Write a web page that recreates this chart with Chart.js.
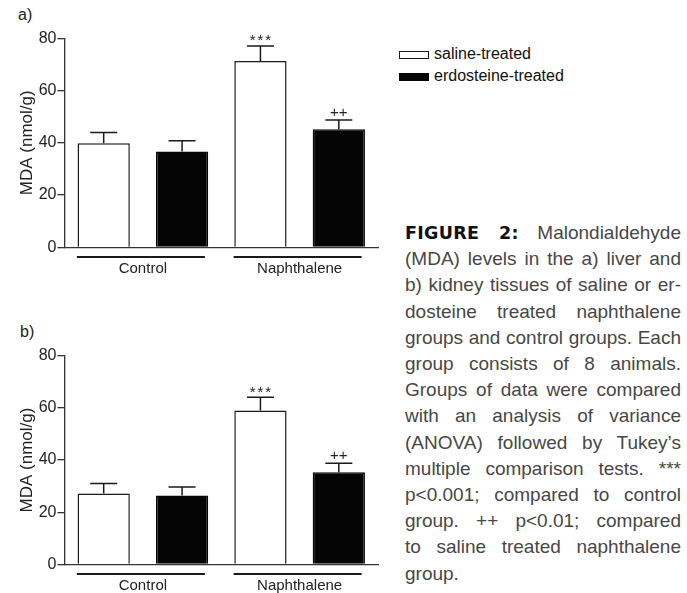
<!DOCTYPE html>
<html>
<head>
<meta charset="utf-8">
<script src="https://cdn.jsdelivr.net/npm/chart.js@4/dist/chart.umd.min.js"></script>
<style>
  html, body { margin: 0; padding: 0; background: #fff; }
  body { width: 687px; height: 593px; position: relative; overflow: hidden;
         font-family: "Liberation Sans", Arial, sans-serif; color: #222; }
  canvas { position: absolute; left: 0; }
  #chartA { top: 0; }
  #chartB { top: 300px; }
  .panel { position: absolute; font-size: 16px; color: #222; }
  #legend { position: absolute; left: 399px; top: 47px; }
  .lg-row { position: relative; height: 22px; }
  .lg-box { position: absolute; left: 0; top: 4px; width: 28px; height: 6px;
            border: 1.5px solid #111; }
  .lg-text { position: absolute; left: 35px; top: -2px; font-size: 16px;
             color: #111; white-space: nowrap; }
  #caption { position: absolute; left: 405px; top: 220px; width: 276px;
             font-size: 19px; line-height: 26.2px; color: #474747; }
  #caption div { text-align: justify; text-align-last: justify; white-space: nowrap; }
  #caption div.last { text-align-last: left; }
  #caption b { font-family: "DejaVu Sans", sans-serif; font-weight: 900; font-size: 17.5px;
               color: #111; letter-spacing: 0.3px; }
</style>
</head>
<body>
<div class="panel" style="left:18px;top:6px;">a)</div>
<div class="panel" style="left:20px;top:323px;">b)</div>
<canvas id="chartA" width="380" height="290"></canvas>
<canvas id="chartB" width="380" height="293"></canvas>
<div id="legend"></div>
<div id="caption">
  <div><b>FIGURE 2:</b> Malondialdehyde</div>
  <div>(MDA) levels in the a) liver and</div>
  <div>b) kidney tissues of saline or er-</div>
  <div>dosteine treated naphthalene</div>
  <div>groups and control groups. Each</div>
  <div>group consists of 8 animals.</div>
  <div>Groups of data were compared</div>
  <div>with an analysis of variance</div>
  <div>(ANOVA) followed by Tukey’s</div>
  <div>multiple comparison tests. ***</div>
  <div>p&lt;0.001; compared to control</div>
  <div>group. ++ p&lt;0.01; compared</div>
  <div>to saline treated naphthalene</div>
  <div class="last">group.</div>
</div>
<script>
// Groups on the x axis
const categories = ['Control', 'Naphthalene'];
const seriesNames = ['saline-treated', 'erdosteine-treated'];
const yTicks = [0, 20, 40, 60, 80];

// a) liver MDA (nmol/g), mean and SEM
const liverSaline = [39.8, 71.3];
const liverSalineSem = [4.1, 5.8];
const liverErdosteine = [36.7, 45.2];
const liverErdosteineSem = [4.1, 3.5];

// b) kidney MDA (nmol/g), mean and SEM
const kidneySaline = [27.2, 59.0];
const kidneySalineSem = [3.8, 5.1];
const kidneyErdosteine = [26.4, 35.3];
const kidneyErdosteineSem = [3.2, 3.5];

// significance marks above each bar
const salineMarks = ['', '***'];
const erdosteineMarks = ['', '++'];

Chart.defaults.font.family = '"Liberation Sans", Arial, sans-serif';
Chart.defaults.color = '#222';

const INK = '#1a1a1a';
const AXIS = '#333';

// Upper SEM whiskers with caps, plus the significance text above them
const errorBarPlugin = {
  id: 'errorBars',
  afterDatasetsDraw(chart) {
    const ctx = chart.ctx;
    const y = chart.scales.y;
    chart.data.datasets.forEach((ds, di) => {
      const meta = chart.getDatasetMeta(di);
      meta.data.forEach((bar, i) => {
        const top = y.getPixelForValue(ds.data[i]);
        const capY = y.getPixelForValue(ds.data[i] + ds.sem[i]);
        ctx.save();
        ctx.strokeStyle = INK;
        ctx.lineWidth = 1.5;
        ctx.beginPath();
        ctx.moveTo(bar.x, top);
        ctx.lineTo(bar.x, capY);
        ctx.moveTo(bar.x - 13.5, capY);
        ctx.lineTo(bar.x + 13.5, capY);
        ctx.stroke();
        const mark = ds.marks[i];
        if (mark) {
          ctx.fillStyle = '#222';
          ctx.textAlign = 'center';
          ctx.textBaseline = 'alphabetic';
          if (mark.startsWith('*')) {
            ctx.font = '15px "Liberation Sans", Arial, sans-serif';
            ctx.letterSpacing = '2px';
            ctx.fillText(mark, bar.x + 1, capY - 0.5);
          } else {
            ctx.font = '15px "Liberation Sans", Arial, sans-serif';
            ctx.letterSpacing = '0px';
            ctx.fillText(mark, bar.x, capY - 3);
          }
        }
        ctx.restore();
      });
    });
  }
};

// Bracket lines under each group of bars
const groupLinePlugin = {
  id: 'groupLines',
  afterDraw(chart) {
    const ctx = chart.ctx;
    const x = chart.scales.x;
    const yLine = chart.chartArea.bottom + 9.6;
    ctx.save();
    ctx.strokeStyle = INK;
    ctx.lineWidth = 2;
    categories.forEach((c, i) => {
      const cx = x.getPixelForValue(i);
      ctx.beginPath();
      ctx.moveTo(cx - 66, yLine);
      ctx.lineTo(cx + 62, yLine);
      ctx.stroke();
    });
    ctx.restore();
  }
};

function makeChart(canvasId, saline, salineSem, erdo, erdoSem, padTop, xHeight) {
  return new Chart(document.getElementById(canvasId), {
    type: 'bar',
    data: {
      labels: categories,
      datasets: [
        { label: seriesNames[0], data: saline, sem: salineSem, marks: salineMarks,
          backgroundColor: '#ffffff', borderColor: INK, borderWidth: 1.5 },
        { label: seriesNames[1], data: erdo, sem: erdoSem, marks: erdosteineMarks,
          backgroundColor: '#050505', borderColor: '#050505', borderWidth: 1.5 }
      ]
    },
    options: {
      responsive: false,
      animation: false,
      events: [],
      layout: { padding: { top: padTop, right: 2, left: 0, bottom: 0 } },
      datasets: { bar: { categoryPercentage: 1.0, barPercentage: 0.667 } },
      plugins: { legend: { display: false }, tooltip: { enabled: false } },
      scales: {
        x: {
          grid: { display: false, drawTicks: false },
          border: { display: true, color: AXIS, width: 1.3 },
          ticks: { font: { size: 15 }, color: '#222', padding: 13 },
          afterFit(s) { s.height = xHeight; }
        },
        y: {
          min: 0, max: 80,
          afterBuildTicks(s) { s.ticks = yTicks.map(v => ({ value: v })); },
          grid: { drawOnChartArea: false, drawTicks: true, tickLength: 7, color: AXIS, lineWidth: 1.3 },
          border: { display: true, color: AXIS, width: 1.3 },
          ticks: { font: { size: 16 }, color: '#222', padding: 1 },
          title: { display: true, text: 'MDA (nmol/g)', font: { size: 17 }, color: '#222',
                   padding: { top: 17, bottom: 0 } },
          afterFit(s) { s.width = 64.5; }
        }
      }
    },
    plugins: [errorBarPlugin, groupLinePlugin]
  });
}

const chartA = makeChart('chartA', liverSaline, liverSalineSem, liverErdosteine, liverErdosteineSem, 38.3, 42.7);
const chartB = makeChart('chartB', kidneySaline, kidneySalineSem, kidneyErdosteine, kidneyErdosteineSem, 55.7, 28.7);

// Legend built from the dataset styles
const legend = document.getElementById('legend');
chartA.data.datasets.forEach(ds => {
  const row = document.createElement('div');
  row.className = 'lg-row';
  const box = document.createElement('span');
  box.className = 'lg-box';
  box.style.background = ds.backgroundColor;
  box.style.borderColor = ds.borderColor;
  const txt = document.createElement('span');
  txt.className = 'lg-text';
  txt.textContent = ds.label;
  row.appendChild(box);
  row.appendChild(txt);
  legend.appendChild(row);
});
</script>
</body>
</html>
